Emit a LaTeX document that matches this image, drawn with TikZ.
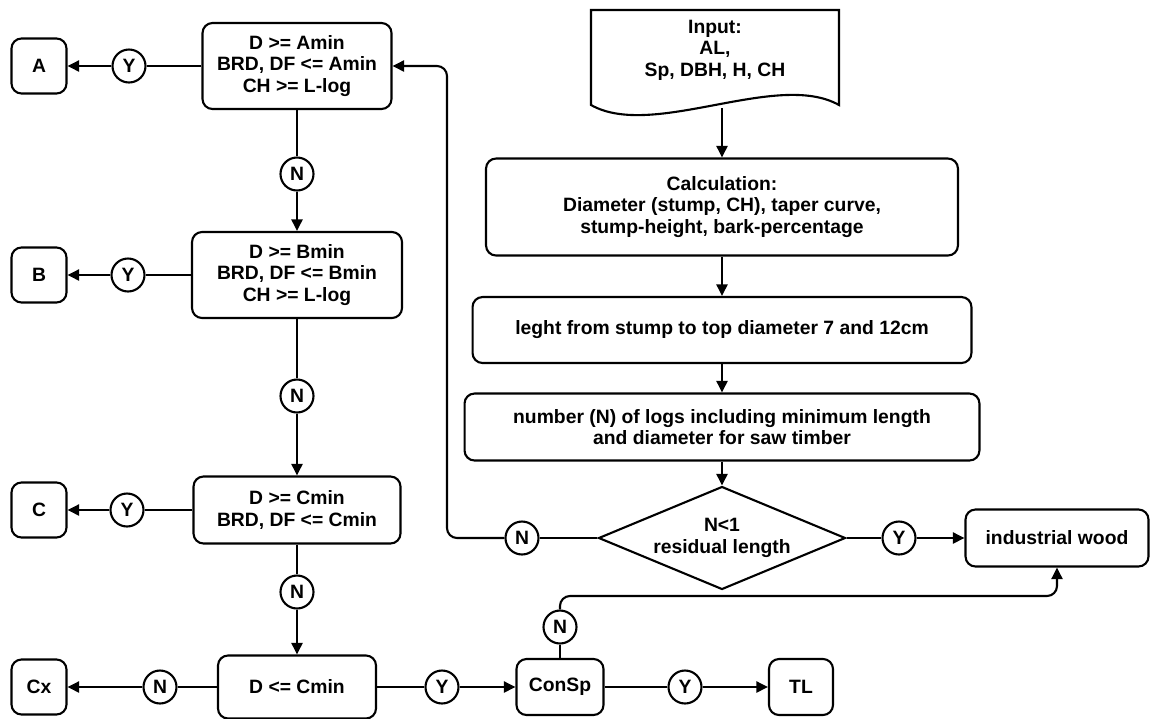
\documentclass[tikz,border=0pt]{standalone}
\usepackage{fontspec}
\setmainfont{Liberation Sans}
\usetikzlibrary{positioning,arrows.meta,shapes.geometric}

\begin{document}
\begin{tikzpicture}[
  x=0.02cm, y=-0.02cm,
  font=\fontsize{11}{12.2}\selectfont\bfseries,
  box/.style={draw, line width=1.2pt, rounded corners=2mm, align=center, inner sep=1mm},
  endbox/.style={box, minimum width=1.1cm, minimum height=1.1cm},
  yn/.style={draw, circle, line width=1.2pt, minimum size=0.66cm, inner sep=0pt},
  decision/.style={draw, diamond, line width=1.2pt, aspect=2.4, inner sep=0pt,
    align=center, minimum width=4.94cm, minimum height=2.06cm},
  link/.style={line width=1.2pt},
  flow/.style={line width=1.2pt, -{Triangle[length=2.3mm,width=2.2mm]}}
]
\useasboundingbox (0,0) rectangle (1150,718);

% left column: grading tests
\node[box, minimum width=3.78cm, minimum height=1.72cm] (amin) at (297,66)
  {D >= Amin\\BRD, DF <= Amin\\CH >= L-log};
\node[endbox] (a) at (39,66) {A};
\node[yn] (ya) at (129,66) {Y};
\node[yn] (n1) at (297,174) {N};
\node[box, minimum width=4.2cm, minimum height=1.72cm] (bmin) at (297,275)
  {D >= Bmin\\BRD, DF <= Bmin\\CH >= L-log};
\node[endbox] (b) at (39,275) {B};
\node[yn] (yb) at (128,275) {Y};
\node[yn] (n2) at (297,396) {N};
\node[box, minimum width=4.14cm, minimum height=1.34cm] (cmin) at (297,510)
  {D >= Cmin\\BRD, DF <= Cmin};
\node[endbox] (c) at (39,510) {C};
\node[yn] (yc) at (127,510) {Y};
\node[yn] (n3) at (297,592) {N};

% bottom row
\node[box, minimum width=3.16cm, minimum height=1.26cm] (dcmin) at (297,687) {D <= Cmin};
\node[yn] (nx) at (160,687) {N};
\node[endbox] (cx) at (39,687) {Cx};
\node[yn] (yd) at (442,687) {Y};
\node[box, minimum width=1.74cm, minimum height=1.12cm] (consp) at (560,687) {ConSp};
\node[yn] (nc) at (560,627) {N};
\node[yn] (yt) at (685,687) {Y};
\node[box, minimum width=1.28cm, minimum height=1.12cm] (tl) at (801,687) {TL};

% right column: input and calculation
\draw[link] (591,10) -- (839,10) -- (839,105)
  .. controls (777,70) and (653,140) .. (591,105) -- cycle;
\node[align=center] (input) at (715,50) {Input:\\AL,\\Sp, DBH, H, CH};
\coordinate (inbot) at (722,108);
\node[box, minimum width=9.44cm, minimum height=1.94cm] (calc) at (722,207)
  {Calculation:\\Diameter (stump, CH), taper curve,\\stump-height, bark-percentage};
\node[box, minimum width=9.98cm, minimum height=1.32cm] (leght) at (722,330)
  {leght from stump to top diameter 7 and 12cm};
\node[box, minimum width=10.3cm, minimum height=1.34cm] (number) at (722,427)
  {number (N) of logs including minimum length\\and diameter for saw timber};
\node[decision] (dec) at (722,538) {N<1\\residual length};
\node[yn] (nd) at (522,538) {N};
\node[yn] (yw) at (899,538) {Y};
\node[box, minimum width=3.66cm, minimum height=1.14cm] (wood) at (1057,538) {industrial wood};
\coordinate (loop) at (447,66);
\coordinate (turn) at (1057,596);

\draw[link] (amin) -- (ya);
\draw[flow] (ya) -- (a);
\draw[link] (amin) -- (n1);
\draw[flow] (n1) -- (bmin);
\draw[link] (bmin) -- (yb);
\draw[flow] (yb) -- (b);
\draw[link] (bmin) -- (n2);
\draw[flow] (n2) -- (cmin);
\draw[link] (cmin) -- (yc);
\draw[flow] (yc) -- (c);
\draw[link] (cmin) -- (n3);
\draw[flow] (n3) -- (dcmin);
\draw[link] (dcmin) -- (nx);
\draw[flow] (nx) -- (cx);
\draw[link] (dcmin) -- (yd);
\draw[flow] (yd) -- (consp);
\draw[link] (consp) -- (yt);
\draw[flow] (yt) -- (tl);
\draw[link] (consp) -- (nc);
\draw[flow, rounded corners=2mm] (nc) |- (turn) -- (wood);

\draw[flow] (inbot) -- (calc);
\draw[flow] (calc) -- (leght);
\draw[flow] (leght) -- (number);
\draw[flow] (number) -- (dec);
\draw[link] (dec) -- (yw);
\draw[flow] (yw) -- (wood);
\draw[link] (dec) -- (nd);
\draw[flow, rounded corners=2mm] (nd) -| (loop) -- (amin);
\end{tikzpicture}
\end{document}
